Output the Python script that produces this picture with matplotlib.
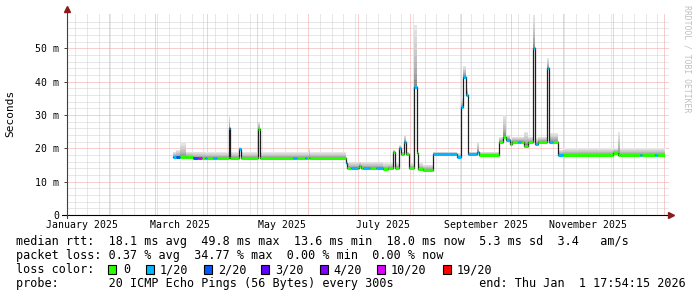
import datetime as dt
import numpy as np
import matplotlib
matplotlib.use("Agg")
import matplotlib.pyplot as plt
from matplotlib.patches import Rectangle

W, H = 697, 297

# time in days since 2025-01-01 00:00, values in ms
seg_day = [69.9, 71.7, 74.0, 77.5, 81.7, 84.7, 86.9, 88.9, 89.9, 93.7,
           96.0, 103.1, 104.1, 109.4, 110.6, 121.0, 122.0, 141.9, 144.3, 149.1,
           150.1, 151.2, 152.2, 173.5, 174.5, 176.5, 181.0, 181.6, 182.6, 184.0,
           188.0, 192.0, 196.0, 199.0, 202.2, 203.2, 205.8, 207.0, 208.6, 209.6,
           211.8, 214.6, 216.2, 217.2, 219.9, 226.2, 240.7, 242.9, 244.3, 245.9,
           247.3, 252.3, 253.9, 265.8, 268.3, 270.0, 272.4, 273.4, 277.0, 279.0,
           280.8, 283.4, 286.4, 287.4, 289.0, 294.4, 295.6, 298.0, 301.4, 304.4,
           334.5, 337.5, 338.5, 350.5, 351.5, 359.8, 360.8]
seg_median = [17.5, 17.4, 17.3, 17.3, 17.0, 17.0, 17.0, 17.0, 17.0, 17.0,
              17.0, 26.0, 17.0, 19.7, 17.0, 25.7, 17.0, 17.0, 17.0, 17.0,
              17.0, 17.0, 17.0, 15.5, 14.0, 14.0, 14.0, 14.8, 14.0, 14.0,
              14.0, 14.0, 13.8, 14.0, 19.0, 14.0, 20.0, 18.2, 22.0, 18.2,
              14.0, 38.5, 18.5, 13.8, 13.5, 18.2, 17.5, 32.5, 41.5, 36.0,
              18.2, 19.0, 18.0, 22.0, 23.5, 22.5, 21.3, 22.0, 22.0, 22.0,
              20.8, 21.8, 50.0, 21.3, 22.0, 44.0, 22.0, 22.0, 18.0, 18.0,
              18.7, 18.0, 18.0, 18.0, 18.0, 18.0, 18.0]
seg_top = [19.0, 19.5, 21.5, 19.0, 19.0, 19.0, 19.0, 18.8, 18.8, 18.8,
           18.8, 30.0, 18.8, 20.3, 18.8, 28.0, 18.8, 18.8, 18.8, 18.8,
           18.8, 20.0, 18.8, 17.0, 16.0, 16.0, 16.0, 16.0, 16.0, 16.0,
           16.0, 16.0, 15.5, 15.5, 19.5, 15.5, 21.0, 19.0, 24.0, 19.0,
           15.5, 57.0, 20.0, 15.5, 15.0, 19.0, 18.5, 35.0, 44.7, 38.0,
           19.0, 22.0, 19.0, 23.5, 30.0, 24.0, 23.0, 23.5, 23.5, 23.5,
           25.0, 23.5, 60.0, 23.0, 23.5, 47.0, 24.5, 24.5, 19.5, 20.0,
           20.0, 25.0, 20.0, 20.0, 20.0, 20.0, 20.0]
seg_loss = [1, 2, 0, 0, 2, 10, 0, 1, 0, 1,
            0, 1, 0, 1, 0, 0, 0, 1, 0, 1,
            0, 0, 0, 1, 0, 1, 0, 0, 0, 1,
            0, 1, 0, 0, 0, 0, 1, 0, 1, 0,
            0, 1, 0, 0, 0, 1, 1, 1, 1, 1,
            1, 1, 0, 0, 0, 1, 0, 0, 1, 0,
            0, 0, 1, 1, 0, 1, 1, 0, 1, 0,
            0, 0, 0, 1, 0, 1, 0]
end_day = 365.746  # Thu Jan 1 17:54:15 2026
span_days = 360

loss_levels = [0, 1, 2, 3, 4, 10, 19]
loss_labels = ['0', '1/20', '2/20', '3/20', '4/20', '10/20', '19/20']
loss_colors = ['#26ff00', '#00b8ff', '#0059ff', '#5e00ff', '#7e00ff', '#dd00ff', '#ff0000']
color_of = dict(zip(loss_levels, loss_colors))

y_ticks = [0, 10, 20, 30, 40, 50]
y_labels = ['0', '10 m', '20 m', '30 m', '40 m', '50 m']

line_rtt = 'median rtt:  18.1 ms avg  49.8 ms max  13.6 ms min  18.0 ms now  5.3 ms sd  3.4   am/s'
line_loss = 'packet loss: 0.37 % avg  34.77 % max  0.00 % min  0.00 % now'
line_probe = ('probe:       20 ICMP Echo Pings (56 Bytes) every 300s'
              '            end: Thu Jan  1 17:54:15 2026')

mono = 'DejaVu Sans Mono'


def fx(x):
    return x / W


def fy(y):
    return 1 - y / H


t0 = dt.datetime(2025, 1, 1)
start_day = end_day - span_days

fig = plt.figure(figsize=(W / 100, H / 100), dpi=100)
fig.patch.set_facecolor('white')
ax = fig.add_axes([fx(66.7), fy(215), (665.3 - 66.7) / W, (215 - 12.5) / H])
ax.set_xlim(start_day, end_day)
ax.set_ylim(0, 60.7)
for s in ax.spines.values():
    s.set_visible(False)

# grid: weekly / 2 ms minor, monthly / 10 ms major
dot = (0, (1, 1))
sundays = []
day = dt.datetime(2025, 1, 5)
while (day - t0).days < end_day:
    sundays.append((day - t0).days)
    day += dt.timedelta(days=7)
months = [(dt.datetime(2025 + (m // 12), m % 12 + 1, 1) - t0).days for m in range(1, 13)]
grid_kw = dict(lw=0.72, ls=dot)
for v in sundays:
    if v > start_day and v not in months:
        ax.axvline(v, color='#d0d0d0', zorder=0, **grid_kw)
for v in np.arange(2, 60, 2):
    if v % 10:
        ax.axhline(v, color='#d0d0d0', zorder=0, xmax=1.005, clip_on=False, **grid_kw)
for v in months:
    ax.axvline(v, color='#f0a0a0', zorder=0.5, **grid_kw)
for v in y_ticks[1:]:
    ax.axhline(v, color='#f0a0a0', zorder=0.5, xmax=1.005, clip_on=False, **grid_kw)

# smoke
edges = np.array(seg_day + [end_day])
med = np.array(seg_median)
top = np.array(seg_top)
n = 10
for k in range(n):
    lo = med + (top - med) * k / n
    hi = med + (top - med) * (k + 1) / n
    g = 0.40 + 0.50 * ((k + 1) / n) ** 0.5
    ax.fill_between(edges, np.append(lo, lo[-1]), np.append(hi, hi[-1]), step='post',
                    color=(g, g, g), lw=0, zorder=1)

# median line, coloured by packet loss
ax.step(edges, np.append(med, med[-1]), where='post', color='#202020', lw=0.9, zorder=2)
ax.hlines(med, edges[:-1], edges[1:], colors=[color_of[l] for l in seg_loss], lw=2.2, zorder=3,
          capstyle='butt')

# axes
ax.set_yticks(y_ticks)
ax.set_yticklabels(y_labels, fontfamily=mono, fontsize=7.1)
ax.tick_params(axis='y', length=2, width=0.7, color='#404040', pad=3.5)
mids = [(dt.datetime(2025, m, 16) - t0).days for m in (1, 3, 5, 7, 9, 11)]
ax.set_xticks(mids)
ax.set_xticklabels([dt.datetime(2025, m, 1).strftime('%B 2025') for m in (1, 3, 5, 7, 9, 11)],
                   fontfamily=mono, fontsize=7.1)
ax.tick_params(axis='x', length=0, pad=3.8)
fig.text(fx(10.7), fy(113.8), 'Seconds', rotation=90, ha='center', va='center',
         fontfamily=mono, fontsize=8)

fig.add_artist(plt.Line2D([fx(62), fx(670)], [fy(215), fy(215)], color='black', lw=0.8))
fig.add_artist(plt.Line2D([fx(66.7), fx(66.7)], [fy(218), fy(10)], color='#404040', lw=0.8))
fig.add_artist(plt.Line2D([fx(671)], [fy(215)], marker='>', ms=4, color='#8b1a1a', lw=0))
fig.add_artist(plt.Line2D([fx(66.7)], [fy(9)], marker='^', ms=4, color='#8b1a1a', lw=0))

# watermark
fig.text(fx(687), fy(5), 'RRDTOOL / TOBI OETIKER', rotation=-90, ha='center', va='top',
         fontfamily=mono, fontsize=5.9, color='#c0c0c0')

# legend
tk = dict(fontfamily=mono, fontsize=8.45, color='black', va='baseline')
fig.text(fx(16), fy(245.3), line_rtt, **tk)
fig.text(fx(16), fy(259.2), line_loss, **tk)
fig.text(fx(16), fy(273.1), 'loss color:', **tk)
for x, t, c, s in zip([108.4, 145.8, 203.6, 261.3, 320, 376.9, 442.7],
                      [123, 160, 217.8, 275.6, 333.3, 390.2, 456.9], loss_colors, loss_labels):
    fig.add_artist(Rectangle((fx(x), fy(273.5)), 8 / W, 9 / H, transform=fig.transFigure,
                             facecolor=c, edgecolor='black', lw=0.8))
    fig.text(fx(t), fy(273.1), s, **tk)
fig.text(fx(16), fy(287), line_probe, **tk)

fig.savefig('out.png', dpi=100)
